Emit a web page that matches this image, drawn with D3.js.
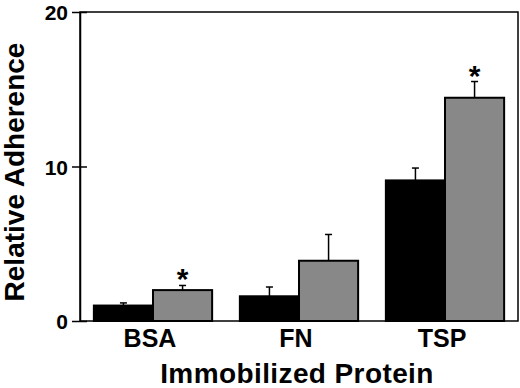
<!DOCTYPE html>
<html>
<head>
<meta charset="utf-8">
<script src="https://cdn.jsdelivr.net/npm/d3@7"></script>
<style>
  body { margin: 0; background: #fff; }
  svg { display: block; }
  text { font-family: "Liberation Sans", Arial, Helvetica, sans-serif; font-weight: bold; fill: #000; }
</style>
</head>
<body>
<svg id="chart" width="520" height="388"></svg>
<script>
var categories = ["BSA", "FN", "TSP"]
var series = ["control", "treated"]
var controlValues = [1.0, 1.6, 9.1]
var controlErrors = [0.17, 0.6, 0.8]
var treatedValues = [2.0, 3.9, 14.45]
var treatedErrors = [0.3, 1.7, 1.05]
var significant = [true, false, true]
var yTicks = [0, 10, 20]

var svg = d3.select("#chart")

// plot frame edges (note: "top" is a reserved window prop)
var plotLeft = 80, plotRight = 518, plotTop = 12, plotBottom = 321

var xScale = d3.scaleBand()
    .domain(categories)
    .range([plotLeft, plotRight])
    .paddingInner(0.19)
    .paddingOuter(0.095)

var xSub = d3.scaleBand()
    .domain(series)
    .range([0, xScale.bandwidth()])

var yScale = d3.scaleLinear()
    .domain([0, 20])
    .range([plotBottom, plotTop])

var colors = { control: "#000", treated: "#888" }

var rows = categories.map(function(c, i) {
    return {
        cat: c,
        bars: [
            { s: "control", v: controlValues[i], e: controlErrors[i], star: false },
            { s: "treated", v: treatedValues[i], e: treatedErrors[i], star: significant[i] }
        ]
    }
})

// frame
svg.append("rect")
    .attr("x", plotLeft)
    .attr("y", plotTop)
    .attr("width", plotRight - plotLeft)
    .attr("height", plotBottom - plotTop)
    .attr("fill", "none")
    .attr("stroke", "#000")
    .attr("stroke-width", 1.5)

var groups = svg.selectAll(".grp")
    .data(rows)
    .enter()
    .append("g")
    .attr("class", "grp")
    .attr("transform", function(d) { return "translate(" + xScale(d.cat) + ",0)"; })

var bar = groups.selectAll(".bar")
    .data(function(d) { return d.bars; })
    .enter()
    .append("g")
    .attr("class", "bar")

// error bars (upward only)
bar.append("line")
    .attr("x1", function(d) { return xSub(d.s) + xSub.bandwidth() / 2; })
    .attr("x2", function(d) { return xSub(d.s) + xSub.bandwidth() / 2; })
    .attr("y1", function(d) { return yScale(d.v); })
    .attr("y2", function(d) { return yScale(d.v + d.e); })
    .attr("stroke", "#000")
    .attr("stroke-width", 1.5)

bar.append("line")
    .attr("x1", function(d) { return xSub(d.s) + xSub.bandwidth() / 2 - 3.5; })
    .attr("x2", function(d) { return xSub(d.s) + xSub.bandwidth() / 2 + 3.5; })
    .attr("y1", function(d) { return yScale(d.v + d.e); })
    .attr("y2", function(d) { return yScale(d.v + d.e); })
    .attr("stroke", "#000")
    .attr("stroke-width", 1.5)

bar.append("rect")
    .attr("x", function(d) { return xSub(d.s); })
    .attr("y", function(d) { return yScale(d.v); })
    .attr("width", xSub.bandwidth())
    .attr("height", function(d) { return yScale(0) - yScale(d.v); })
    .attr("fill", function(d) { return colors[d.s]; })
    .attr("stroke", "#000")
    .attr("stroke-width", 2)

bar.filter(function(d) { return d.star; })
    .append("text")
    .attr("x", function(d) { return xSub(d.s) + xSub.bandwidth() / 2; })
    .attr("y", function(d) { return yScale(d.v + d.e) + 4; })
    .attr("text-anchor", "middle")
    .style("font-size", "30px")
    .text("*")

// y axis
var yAxis = d3.axisLeft(yScale)
    .tickValues(yTicks)
    .tickSizeInner(8)
    .tickSizeOuter(0)
    .tickPadding(4)

var ya = svg.append("g")
    .attr("transform", "translate(" + plotLeft + ",0)")
    .call(yAxis)
ya.select(".domain").attr("stroke-width", 1.5)
ya.selectAll(".tick line").attr("x2", -8).attr("x1", 7).attr("stroke-width", 1.5)
ya.selectAll(".tick text")
    .style("font-family", "Liberation Sans, Arial, sans-serif")
    .style("font-weight", "bold")
    .style("font-size", "21px")
    .attr("dy", "0.36em")

// x axis labels
var xAxis = d3.axisBottom(xScale).tickSize(0).tickPadding(8)
var xa = svg.append("g")
    .attr("transform", "translate(-3," + plotBottom + ")")
    .call(xAxis)
xa.select(".domain").remove()
xa.selectAll(".tick text")
    .style("font-family", "Liberation Sans, Arial, sans-serif")
    .style("font-weight", "bold")
    .style("font-size", "25px")
    .attr("dy", "0.71em")

// titles
svg.append("text")
    .attr("x", 297)
    .attr("y", 383)
    .attr("text-anchor", "middle")
    .style("font-size", "28px")
    .style("letter-spacing", "0.4px")
    .text("Immobilized Protein")

svg.append("text")
    .attr("transform", "translate(24,172) rotate(-90)")
    .attr("text-anchor", "middle")
    .style("font-size", "28px")
    .text("Relative Adherence")
</script>
</body>
</html>
